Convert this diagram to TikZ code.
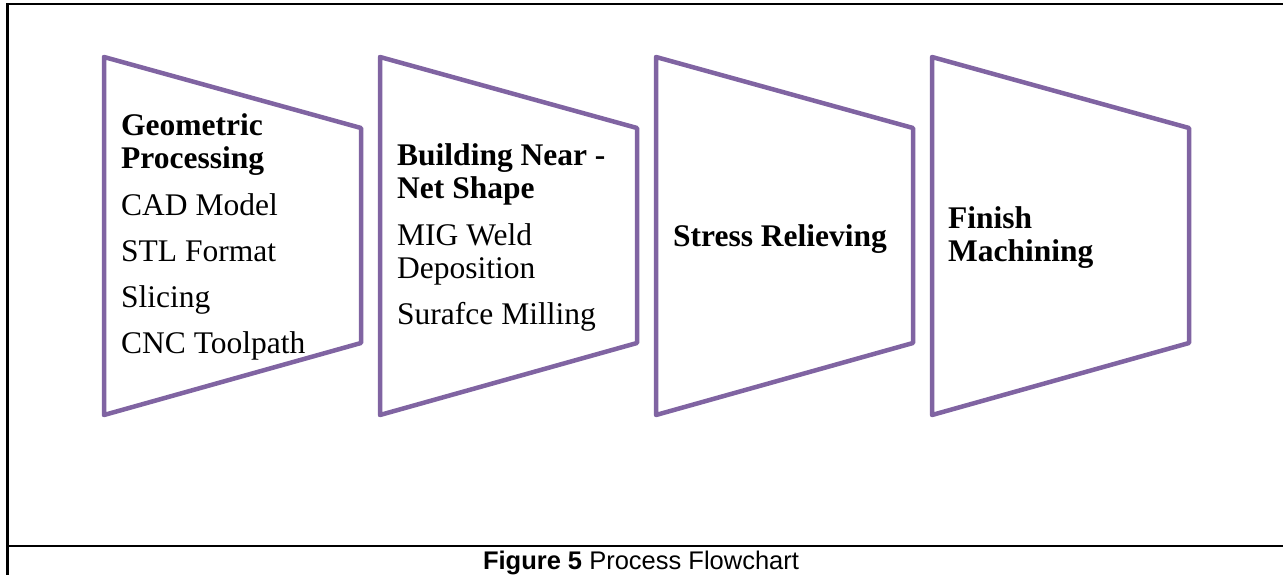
\documentclass[tikz,border=0pt]{standalone}
\usepackage{fontspec}
\setmainfont{Liberation Serif}
\newfontfamily\captionsans{Liberation Sans}
\definecolor{stagepurple}{RGB}{128,100,162}
\begin{document}
\begin{tikzpicture}[x=1pt,y=-1pt,
  stage/.style={draw=stagepurple, line width=4.5pt, line join=round},
  headline/.style={anchor=base west, inner sep=0pt, font=\fontsize{31.5}{33}\selectfont\bfseries},
  itemline/.style={anchor=base west, inner sep=0pt, font=\fontsize{31.5}{33}\selectfont},
  rule/.style={draw=black, line width=2.2pt}]
\useasboundingbox (0,0) rectangle (1283,575);

% table frame and caption row
\coordinate (frameBL) at (7.5,575);
\coordinate (frameTL) at (7.5,4);
\coordinate (frameTR) at (1283,4);
\coordinate (rowL) at (7.5,546);
\coordinate (rowR) at (1283,546);
\draw[rule] (frameBL) -- (frameTL) -- (frameTR);
\draw[rule] (rowL) -- (rowR);
\node[anchor=base, inner sep=0pt, font=\captionsans\fontsize{25.5}{28}\selectfont] (caption) at (641,569)
  {\textbf{Figure 5} Process Flowchart};

% four chevron-like trapezoid stages
\foreach \i in {0,...,3} {
  \draw[stage] ({104+276*\i},57) -- ({361+276*\i},128) -- ({361+276*\i},343)
    -- ({104+276*\i},415) -- cycle;
}

% stage 1
\node[headline] (s1a) at (121,136) {Geometric};
\node[headline] (s1b) at (121,168) {Processing};
\node[itemline] (s1c) at (121,215) {CAD Model};
\node[itemline] (s1d) at (121,261) {STL Format};
\node[itemline] (s1e) at (121,307) {Slicing};
\node[itemline] (s1f) at (121,353) {CNC Toolpath};

% stage 2
\node[headline] (s2a) at (397,166) {Building Near -};
\node[headline] (s2b) at (397,199) {Net Shape};
\node[itemline] (s2c) at (397,245) {MIG Weld};
\node[itemline] (s2d) at (397,278) {Deposition};
\node[itemline] (s2e) at (397,324) {Surafce Milling};

% stage 3
\node[headline] (s3a) at (673,246) {Stress Relieving};

% stage 4
\node[headline] (s4a) at (948,228) {Finish};
\node[headline] (s4b) at (948,261) {Machining};
\end{tikzpicture}
\end{document}
